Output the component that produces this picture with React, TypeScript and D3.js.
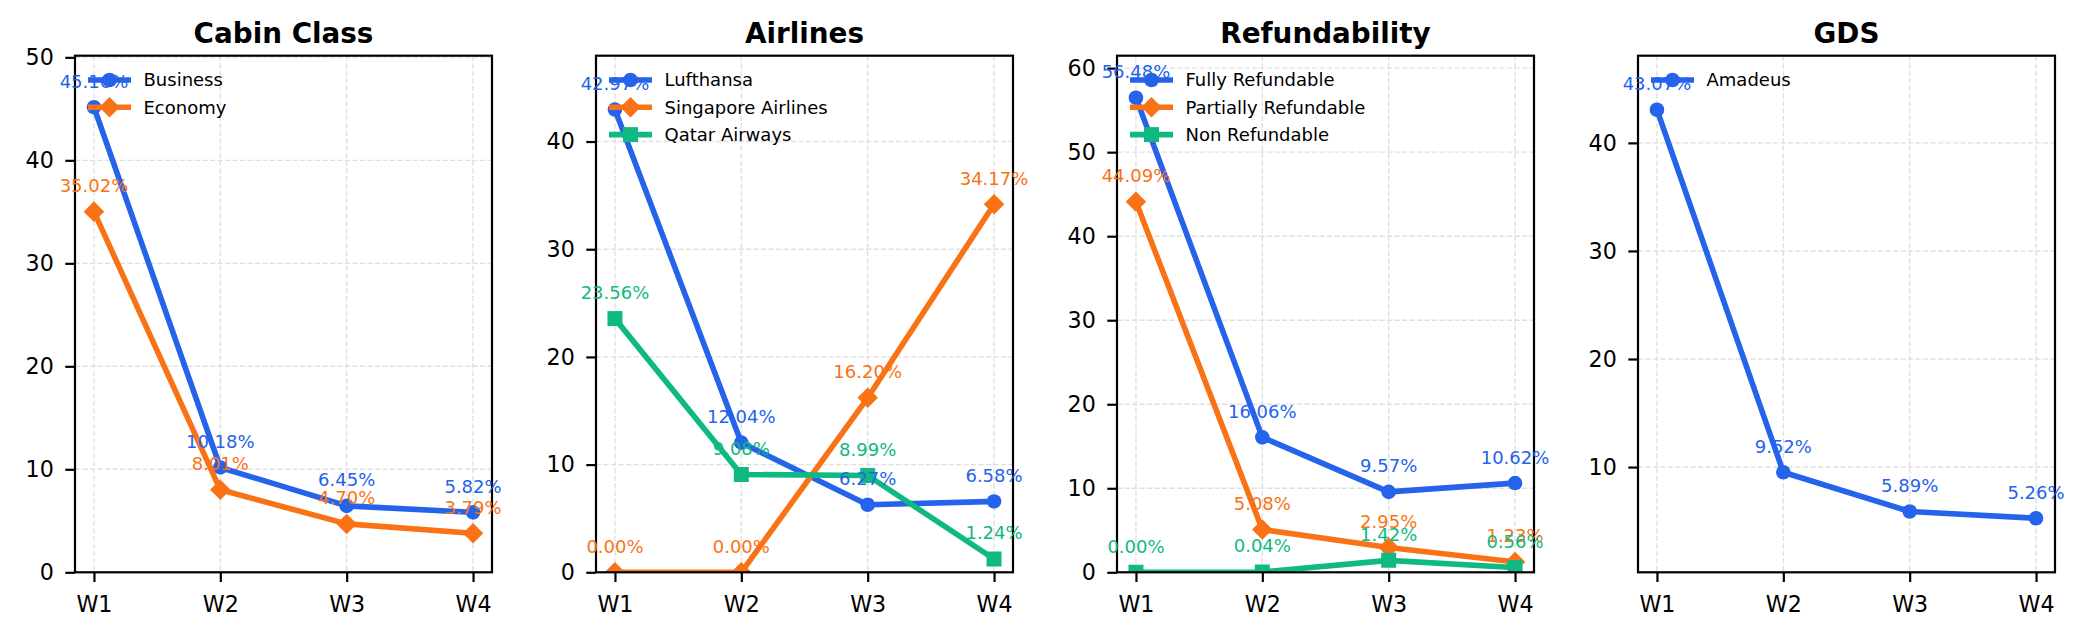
import { useEffect, useRef } from 'react';
import * as d3 from 'd3';

// weekly share (%) per segment
const weeks = ['W1', 'W2', 'W3', 'W4'];

const cabinBusiness = [45.16, 10.18, 6.45, 5.82];
const cabinEconomy = [35.02, 8.01, 4.7, 3.79];

const airLufthansa = [42.97, 12.04, 6.27, 6.58];
const airSingapore = [0.0, 0.0, 16.2, 34.17];
const airQatar = [23.56, 9.08, 8.99, 1.24];

const refFully = [56.48, 16.06, 9.57, 10.62];
const refPartial = [44.09, 5.08, 2.95, 1.23];
const refNon = [0.0, 0.04, 1.42, 0.56];

const gdsAmadeus = [43.07, 9.52, 5.89, 5.26];

const BLUE = '#2563eb';
const ORANGE = '#f97316';
const GREEN = '#10b981';

type Marker = 'circle' | 'diamond' | 'square';

interface Series {
  name: string;
  values: number[];
  color: string;
  marker: Marker;
}

const panels: { title: string; series: Series[] }[] = [
  {
    title: 'Cabin Class',
    series: [
      { name: 'Business', values: cabinBusiness, color: BLUE, marker: 'circle' },
      { name: 'Economy', values: cabinEconomy, color: ORANGE, marker: 'diamond' },
    ],
  },
  {
    title: 'Airlines',
    series: [
      { name: 'Lufthansa', values: airLufthansa, color: BLUE, marker: 'circle' },
      { name: 'Singapore Airlines', values: airSingapore, color: ORANGE, marker: 'diamond' },
      { name: 'Qatar Airways', values: airQatar, color: GREEN, marker: 'square' },
    ],
  },
  {
    title: 'Refundability',
    series: [
      { name: 'Fully Refundable', values: refFully, color: BLUE, marker: 'circle' },
      { name: 'Partially Refundable', values: refPartial, color: ORANGE, marker: 'diamond' },
      { name: 'Non Refundable', values: refNon, color: GREEN, marker: 'square' },
    ],
  },
  {
    title: 'GDS',
    series: [{ name: 'Amadeus', values: gdsAmadeus, color: BLUE, marker: 'circle' }],
  },
];

const WIDTH = 2087;
const HEIGHT = 640;
const firstLeft = 75;
const step = 521;
const plotW = 417;
const top = 55.7;
const plotH = 516.6;
const FONT = '"DejaVu Sans", Verdana, sans-serif';

function markerPath(m: Marker) {
  if (m === 'circle') return d3.symbol(d3.symbolCircle, Math.PI * 7.3 * 7.3)();
  if (m === 'square') return d3.symbol(d3.symbolSquare, 15 * 15)();
  return d3.symbol(d3.symbolSquare, 14.5 * 14.5)();
}

function drawMarker(sel: any, m: Marker, color: string, cx: number, cy: number) {
  sel
    .append('path')
    .attr('d', markerPath(m))
    .attr('fill', color)
    .attr('transform', `translate(${cx},${cy})${m === 'diamond' ? ' rotate(45)' : ''}`);
}

function Chart() {
  const svgRef = useRef<SVGSVGElement>(null);

  useEffect(() => {
    if (svgRef.current === null) return;
    const svg = d3.select(svgRef.current);
    svg.selectAll('*').remove();

    panels.forEach((panel, pi) => {
      const left = firstLeft + pi * step;
      const all = panel.series.flatMap((s) => s.values);
      const lo = Math.max(0, (d3.min(all) as number) - 5);
      const hi = (d3.max(all) as number) + 5;

      const x = d3.scaleLinear().domain([-0.15, 3.15]).range([0, plotW]);
      const y = d3.scaleLinear().domain([lo, hi]).range([plotH, 0]);

      const g = svg.append('g').attr('transform', `translate(${left},${top})`);
      const clipId = `clip-${pi}`;
      g.append('clipPath')
        .attr('id', clipId)
        .append('rect')
        .attr('width', plotW)
        .attr('height', plotH);

      // grid
      const grid = g.append('g').attr('stroke', '#e0e0e0').attr('stroke-width', 1.4).attr('stroke-dasharray', '5.2,2.3');
      y.ticks(5).forEach((t) => {
        grid.append('line').attr('x1', 0).attr('x2', plotW).attr('y1', y(t)).attr('y2', y(t));
      });
      weeks.forEach((_, i) => {
        grid.append('line').attr('x1', x(i)).attr('x2', x(i)).attr('y1', 0).attr('y2', plotH);
      });

      // series lines + markers
      const plot = g.append('g').attr('clip-path', `url(#${clipId})`);
      const line = d3
        .line<number>()
        .x((_, i) => x(i))
        .y((v) => y(v));
      panel.series.forEach((s) => {
        plot
          .append('path')
          .attr('d', line(s.values))
          .attr('fill', 'none')
          .attr('stroke', s.color)
          .attr('stroke-width', 5.6)
          .attr('stroke-linejoin', 'round')
          .attr('stroke-linecap', 'square');
        s.values.forEach((v, i) => drawMarker(plot, s.marker, s.color, x(i), y(v)));
      });

      // axes
      const yAxis = g
        .append('g')
        .call(d3.axisLeft(y).ticks(5).tickSize(9.7).tickPadding(11.5).tickSizeOuter(0));
      const xAxis = g
        .append('g')
        .attr('transform', `translate(0,${plotH})`)
        .call(
          d3
            .axisBottom(x)
            .tickValues([0, 1, 2, 3])
            .tickFormat((d: any) => weeks[d])
            .tickSize(9.7)
            .tickPadding(14.5)
            .tickSizeOuter(0)
        );
      [yAxis, xAxis].forEach((ax) => {
        ax.select('.domain').remove();
        ax.selectAll('line').attr('stroke', '#000').attr('stroke-width', 2.2);
        ax.selectAll('text').attr('fill', '#000').style('font-family', FONT).style('font-size', '22.2px');
      });

      // frame
      g.append('rect')
        .attr('width', plotW)
        .attr('height', plotH)
        .attr('fill', 'none')
        .attr('stroke', '#000')
        .attr('stroke-width', 2.2);

      // value labels
      panel.series.forEach((s) => {
        s.values.forEach((v, i) => {
          g.append('text')
            .attr('x', x(i))
            .attr('y', y(v) - 19.5)
            .attr('text-anchor', 'middle')
            .attr('fill', s.color)
            .style('font-family', FONT)
            .style('font-size', '18px')
            .text(`${v.toFixed(2)}%`);
        });
      });

      // legend
      panel.series.forEach((s, i) => {
        const ly = 24.3 + i * 27.3;
        const lg = g.append('g');
        lg.append('line')
          .attr('x1', 13)
          .attr('x2', 56)
          .attr('y1', ly)
          .attr('y2', ly)
          .attr('stroke', s.color)
          .attr('stroke-width', 5.6);
        drawMarker(lg, s.marker, s.color, 34.5, ly);
        lg.append('text')
          .attr('x', 68.5)
          .attr('y', ly)
          .attr('dy', '0.36em')
          .attr('fill', '#000')
          .style('font-family', FONT)
          .style('font-size', '18px')
          .text(s.name);
      });

      // title
      svg
        .append('text')
        .attr('x', left + plotW / 2)
        .attr('y', 43.3)
        .attr('text-anchor', 'middle')
        .attr('fill', '#000')
        .style('font-family', FONT)
        .style('font-size', '27.8px')
        .style('font-weight', 'bold')
        .text(panel.title);
    });
  }, []);

  return (
    <svg
      ref={svgRef}
      width={WIDTH}
      height={HEIGHT}
      style={{ position: 'absolute', left: 0, top: 0, background: '#fff' }}
    />
  );
}

export default function App() {
  return <Chart />;
}
